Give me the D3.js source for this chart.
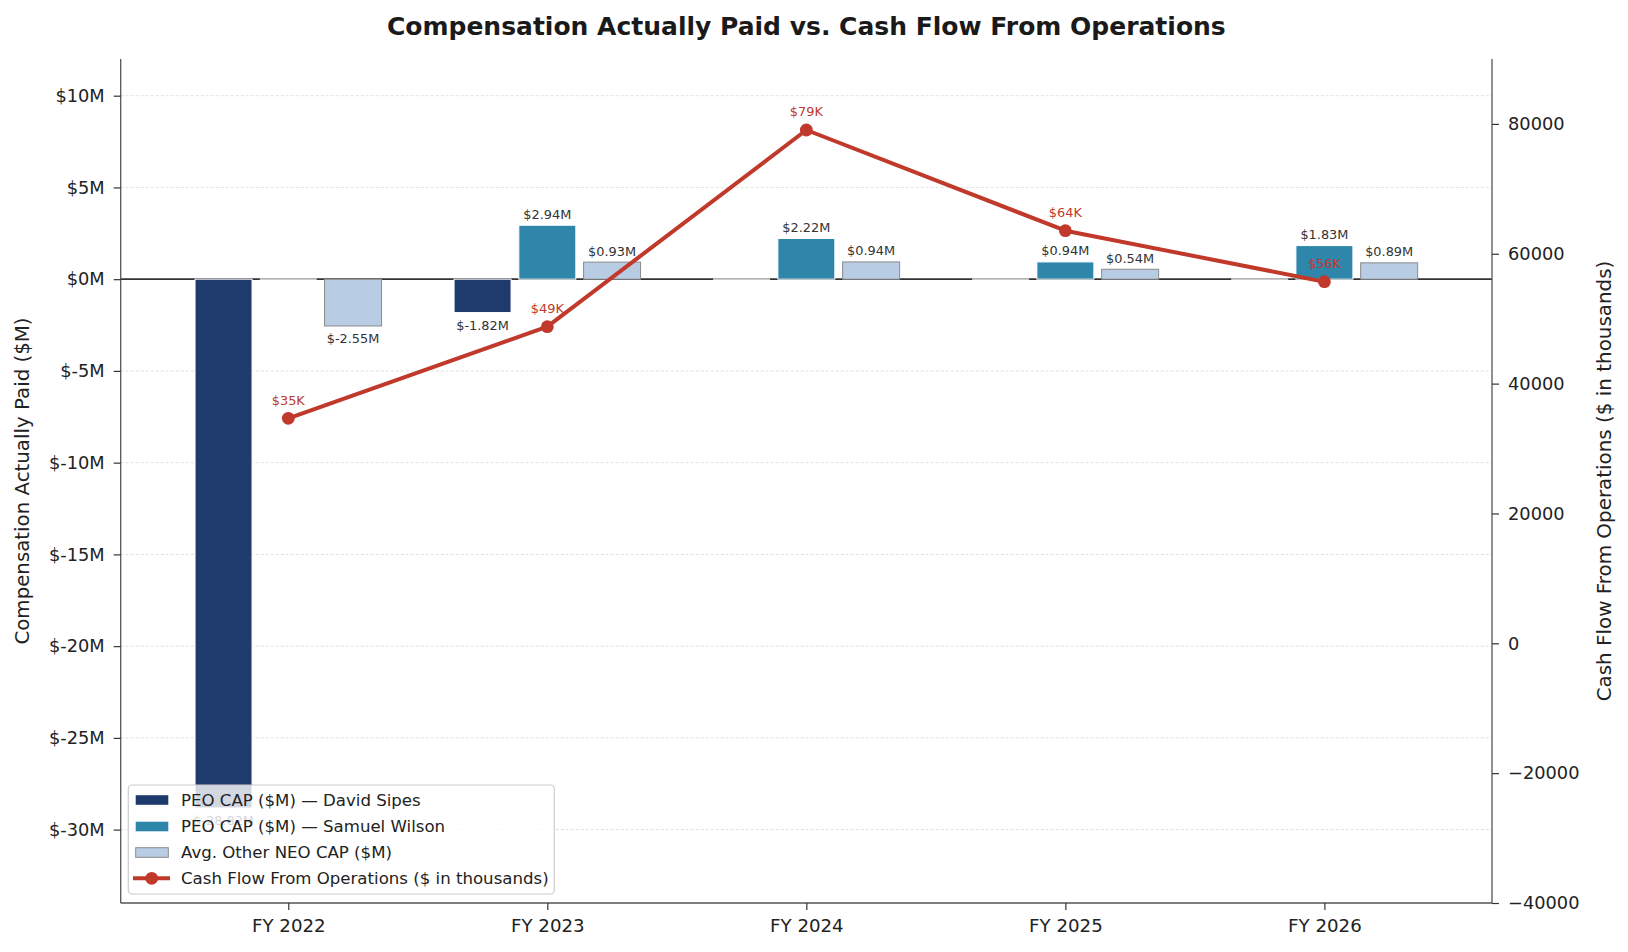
<!DOCTYPE html>
<html>
<head>
<meta charset="utf-8">
<script src="https://cdn.jsdelivr.net/npm/d3@7"></script>
<style>
  html, body { margin: 0; padding: 0; background: #fff; }
  svg { display: block; font-family: "DejaVu Sans", sans-serif; }
</style>
</head>
<body>
<svg id="chart" width="1628" height="952"></svg>
<script>
// ---- data ----
const categories = ["FY 2022", "FY 2023", "FY 2024", "FY 2025", "FY 2026"];
const peoSipes = [-28.82, -1.82, 0, 0, 0];
const peoWilson = [0, 2.94, 2.22, 0.94, 1.83];
const neoAvg = [-2.55, 0.93, 0.94, 0.54, 0.89];
const cashFlow = [34657, 48768, 79065, 63556, 55699];
const leftTicks = [10, 5, 0, -5, -10, -15, -20, -25, -30];
const rightTicks = [80000, 60000, 40000, 20000, 0, -20000, -40000];
const seriesNames = ["PEO CAP ($M) \u2014 David Sipes", "PEO CAP ($M) \u2014 Samuel Wilson", "Avg. Other NEO CAP ($M)", "Cash Flow From Operations ($ in thousands)"];

const colors = { sipes: "#1f3a6d", wilson: "#2e86ab", neo: "#b8cce4", neoEdge: "#8a8a8a", cash: "#c0392b" };

const svg = d3.select("#chart");
const L = 120.7, R = 1492, T = 59, B = 903;

const x = d3.scaleLinear().domain([-0.647, 4.647]).range([L, R]);
const y = d3.scaleLinear().domain([-34, 12]).range([B, T]);
const y2 = d3.scaleLinear().domain([-40000, 90000]).range([B, T]);

// grid
svg.append("g").selectAll("line").data(leftTicks).join("line")
  .attr("x1", L).attr("x2", R).attr("y1", d => y(d)).attr("y2", d => y(d))
  .attr("stroke", "#d9d9d9").attr("stroke-width", 0.8).attr("stroke-dasharray", "3,2");

// zero line
svg.append("line").attr("x1", L).attr("x2", R).attr("y1", y(0)).attr("y2", y(0))
  .attr("stroke", "#333").attr("stroke-width", 1.6);

// bars
const bw = 0.22;
const series = [
  { vals: peoSipes, off: -0.25, fill: colors.sipes, edge: "#ffffff" },
  { vals: peoWilson, off: 0, fill: colors.wilson, edge: "#ffffff" },
  { vals: neoAvg, off: 0.25, fill: colors.neo, edge: colors.neoEdge }
];
const fmtM = v => "$" + v.toFixed(2) + "M";
series.forEach(s => {
  const g = svg.append("g");
  s.vals.forEach((v, i) => {
    const cx = i + s.off;
    const x0 = x(cx - bw / 2), x1 = x(cx + bw / 2);
    if (v === 0) {
      g.append("line").attr("x1", x0).attr("x2", x1).attr("y1", y(0)).attr("y2", y(0))
        .attr("stroke", "#ffffff").attr("stroke-width", 1.4);
      return;
    }
    const yt = y(Math.max(0, v)), yb = y(Math.min(0, v));
    g.append("rect").attr("x", x0).attr("width", x1 - x0).attr("y", yt).attr("height", yb - yt)
      .attr("fill", s.fill).attr("stroke", s.edge).attr("stroke-width", 1);
    g.append("text").attr("x", x(cx)).attr("y", v > 0 ? yt - 6.5 : yb + 17.5)
      .attr("text-anchor", "middle").attr("font-size", 12.9).attr("fill", "#333")
      .text(fmtM(v));
  });
});

// cash flow line
const line = d3.line().x((d, i) => x(i)).y(d => y2(d));
svg.append("path").datum(cashFlow).attr("d", line).attr("fill", "none")
  .attr("stroke", colors.cash).attr("stroke-width", 4).attr("stroke-linejoin", "round");
svg.append("g").selectAll("circle").data(cashFlow).join("circle")
  .attr("cx", (d, i) => x(i)).attr("cy", d => y2(d)).attr("r", 6.4).attr("fill", colors.cash);
svg.append("g").selectAll("text").data(cashFlow).join("text")
  .attr("x", (d, i) => x(i)).attr("y", d => y2(d) - 13.5)
  .attr("text-anchor", "middle").attr("font-size", 12.9).attr("fill", colors.cash)
  .text(d => "$" + Math.round(d / 1000) + "K");

// spines
svg.append("line").attr("x1", L).attr("x2", L).attr("y1", T).attr("y2", B).attr("stroke", "#555").attr("stroke-width", 1.3);
svg.append("line").attr("x1", R).attr("x2", R).attr("y1", T).attr("y2", B).attr("stroke", "#555").attr("stroke-width", 1.3);
svg.append("line").attr("x1", L).attr("x2", R).attr("y1", B).attr("y2", B).attr("stroke", "#555").attr("stroke-width", 1.3);

// left axis
const leftAxis = d3.axisLeft(y).tickValues(leftTicks).tickSize(7).tickPadding(9)
  .tickFormat(d => "$" + d + "M");
const gl = svg.append("g").attr("transform", `translate(${L},0)`).call(leftAxis);
gl.select(".domain").remove();
gl.selectAll("line").attr("stroke", "#333").attr("stroke-width", 1.2);
gl.selectAll("text").attr("font-size", 17.8).attr("fill", "#222").attr("font-family", "DejaVu Sans");

// right axis
const rightAxis = d3.axisRight(y2).tickValues(rightTicks).tickSize(7).tickPadding(9)
  .tickFormat(d => d < 0 ? "\u2212" + Math.abs(d) : String(d));
const gr = svg.append("g").attr("transform", `translate(${R},0)`).call(rightAxis);
gr.select(".domain").remove();
gr.selectAll("line").attr("stroke", "#333").attr("stroke-width", 1.2);
gr.selectAll("text").attr("font-size", 17.8).attr("fill", "#222").attr("font-family", "DejaVu Sans");

// bottom axis
const bottomAxis = d3.axisBottom(x).tickValues(d3.range(categories.length)).tickSize(7).tickPadding(9)
  .tickFormat(i => categories[i]);
const gb = svg.append("g").attr("transform", `translate(0,${B})`).call(bottomAxis);
gb.select(".domain").remove();
gb.selectAll("line").attr("stroke", "#333").attr("stroke-width", 1.2);
gb.selectAll("text").attr("font-size", 18.2).attr("fill", "#222").attr("font-family", "DejaVu Sans");

// axis labels
svg.append("text").attr("transform", `translate(29,${(T + B) / 2}) rotate(-90)`)
  .attr("text-anchor", "middle").attr("font-size", 19.8).attr("fill", "#222")
  .text("Compensation Actually Paid ($M)");
svg.append("text").attr("transform", `translate(1611,${(T + B) / 2}) rotate(-90)`)
  .attr("text-anchor", "middle").attr("font-size", 19.9).attr("fill", "#222")
  .text("Cash Flow From Operations ($ in thousands)");

// title
svg.append("text").attr("x", (L + R) / 2).attr("y", 35).attr("text-anchor", "middle")
  .attr("font-size", 25).attr("font-weight", "bold").attr("fill", "#1a1a1a")
  .text("Compensation Actually Paid vs. Cash Flow From Operations");

// legend
const lg = svg.append("g");
lg.append("rect").attr("x", 128.3).attr("y", 785).attr("width", 426).attr("height", 109)
  .attr("rx", 4).attr("fill", "#ffffff").attr("fill-opacity", 0.8).attr("stroke", "#cccccc").attr("stroke-width", 1.2);
const rows = [800, 826.5, 852.5, 878.3];
const patchFills = [colors.sipes, colors.wilson, colors.neo];
const patchEdges = [colors.sipes, colors.wilson, colors.neoEdge];
rows.forEach((ry, i) => {
  if (i < 3) {
    lg.append("rect").attr("x", 135.7).attr("y", ry - 4.8).attr("width", 32.6).attr("height", 9.6)
      .attr("fill", patchFills[i]).attr("stroke", i === 2 ? patchEdges[i] : "none").attr("stroke-width", 1);
  } else {
    lg.append("line").attr("x1", 133).attr("x2", 170).attr("y1", ry).attr("y2", ry)
      .attr("stroke", colors.cash).attr("stroke-width", 4);
    lg.append("circle").attr("cx", 151.7).attr("cy", ry).attr("r", 6.4).attr("fill", colors.cash);
  }
  lg.append("text").attr("x", 181).attr("y", ry + 5.9).attr("font-size", 16.6).attr("fill", "#222")
    .text(seriesNames[i]);
});
</script>
</body>
</html>
